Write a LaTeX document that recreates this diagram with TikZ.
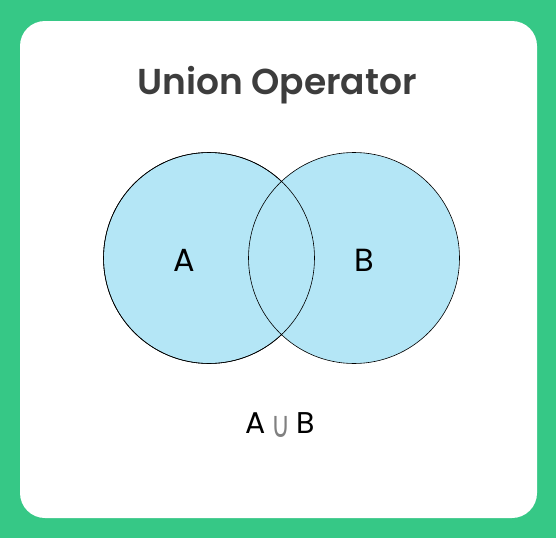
\documentclass[tikz,border=0pt]{standalone}
\usepackage{fontspec}
\setmainfont{Poppins}
\newfontfamily\titlefont{Poppins SemiBold}
\newfontfamily\symfont{DejaVu Sans}
\definecolor{bggreen}{HTML}{36C886}
\definecolor{vennfill}{HTML}{B4E6F6}
\definecolor{titlegray}{HTML}{3D3D3D}
\begin{document}
\begin{tikzpicture}[x=1pt,y=-1pt,
  setcircle/.style={draw=black, line width=0.6pt, fill=vennfill},
  setlabel/.style={font=\fontsize{32}{32}\selectfont, text=black, inner sep=0pt},
  titletext/.style={font=\titlefont\fontsize{36}{36}\selectfont, text=titlegray, inner sep=0pt}]
\fill[bggreen] (0,0) rectangle (556,538);
\useasboundingbox (0,0) rectangle (556,538);
\fill[white, rounded corners=25pt] (20,21) rectangle (537,518);
\node[titletext] (title) at (277,85) {Union Operator};
\path[setcircle] (209,258) circle[radius=105.5];
\path[setcircle] (354,258) circle[radius=105.5];
\draw[line width=0.6pt] (209,258) circle[radius=105.5];
\node[setlabel] (a) at (184,260) {A};
\node[setlabel] (b) at (364,260) {B};
\node[inner sep=0pt, font=\fontsize{30}{30}\selectfont] (union) at (280,425) {A\kern6pt\raisebox{-4pt}{\scalebox{1.0}[1.4]{\symfont\fontsize{26}{26}\selectfont\color{gray}∪}}\kern6pt B};
\end{tikzpicture}
\end{document}
